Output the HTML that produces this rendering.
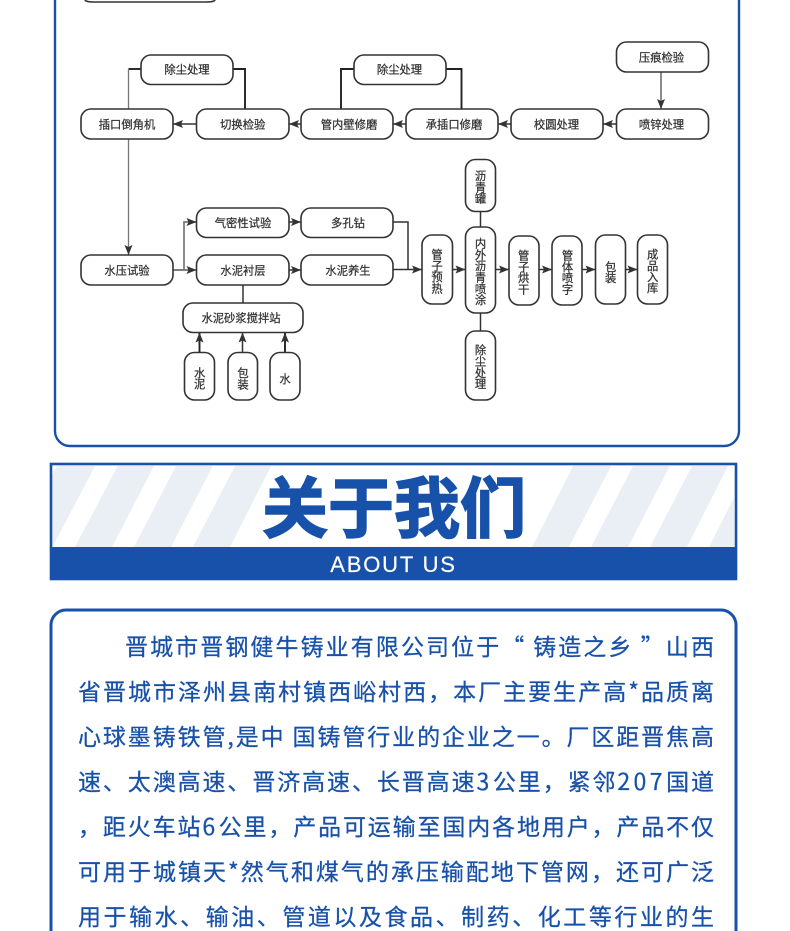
<!DOCTYPE html>
<html lang="zh-CN"><head><meta charset="utf-8"><style>
html,body{margin:0;padding:0;background:#fff;width:790px;height:931px;overflow:hidden}
#p{position:relative;width:790px;height:931px;overflow:hidden;background:#fff}
svg{position:absolute;left:0;top:0}
.n{fill:#fff;stroke:#333;stroke-width:1.6}
.t{font-family:"Noto Sans CJK SC","Liberation Sans",sans-serif;font-size:11.3px;font-weight:400;fill:#333;stroke:#333;stroke-width:.25;text-anchor:middle}
.l{fill:none;stroke:#333;stroke-width:1.5}
.g{fill:none;stroke:#777;stroke-width:1.3}
.b{fill:none;stroke:#222;stroke-width:1.9}
.a{marker-end:url(#m)}
.x{position:absolute;left:78px;width:637.700px;height:38px;overflow:hidden;line-height:45px;font-family:"Noto Sans CJK SC","Liberation Sans",sans-serif;font-size:23px;letter-spacing:1.7px;color:#1851a9;-webkit-text-stroke:.25px #1851a9;white-space:nowrap;text-align:justify;text-align-last:justify}
.d{letter-spacing:3.4px}
</style></head><body><div id="p">
<svg width="790" height="931" viewBox="0 0 790 931">
<defs>
<marker id="m" markerUnits="userSpaceOnUse" viewBox="0 0 10 10" refX="10" refY="5" markerWidth="10" markerHeight="10" orient="auto"><path d="M0 1L10 5L0 9L2 5Z" fill="#333"/></marker>
<clipPath id="c"><rect x="52.500" y="466" width="681.500" height="81"/></clipPath>
</defs>

<path d="M55 0V431a15 15 0 0 0 15 15H724a15 15 0 0 0 15-15V0" fill="#fff" stroke="#1851a9" stroke-width="2.4"/>

<path class="l a" d="M661 72V109" style="stroke:#666"/>
<path class="l a" d="M616 124H603"/><path class="l a" d="M511 124H498"/><path class="l a" d="M406 124H393"/><path class="l a" d="M301 124H289"/><path class="l a" d="M196.500 124H173"/>
<path class="b" d="M245 109V69H233"/>
<path class="b" d="M141 69H128.500"/><path class="g" d="M128.500 69V109"/>
<path class="g a" d="M128.500 139V255"/>
<path class="b" d="M341 109V69H354"/><path class="b" d="M446 69H461.500V109"/>
<path class="l a" d="M173 270H196.500" style="stroke:#555"/>
<path class="g a" d="M184 270V222H196.500" style="stroke-width:1.7"/>
<path class="l a" d="M289 222H301"/><path class="l a" d="M289 270H301"/>
<path class="l" d="M243 285V303" style="stroke-width:1.8;stroke:#555"/>
<path class="b a" d="M199.500 352V332.500"/><path class="l a" d="M242.500 352V332.500"/><path class="b a" d="M285 352V332.500"/>
<path class="l" d="M393 222H408V269.500"/><path class="l a" d="M393 269.500H422"/>
<path class="l a" d="M452.500 269.500H465.500"/><path class="l a" d="M495.500 269.500H509"/><path class="l a" d="M539 269.500H552"/><path class="l a" d="M582 269.500H595.500"/><path class="l a" d="M625.500 269.500H637.500"/>
<path class="l" d="M480.500 211V227"/><path class="l" d="M480.500 313V331"/>

<path class="n" d="M85 0q1 2 9 2H206q8 0 9-2"/>
<rect class="n" x="141" y="55" width="92" height="29.500" rx="10"/>
<rect class="n" x="81" y="109" width="92" height="30" rx="10"/>
<rect class="n" x="196.500" y="109" width="92.500" height="30" rx="10"/>
<rect class="n" x="301" y="109" width="92" height="30" rx="10"/>
<rect class="n" x="354" y="55" width="92" height="29.500" rx="10"/>
<rect class="n" x="406" y="109" width="92" height="30" rx="10"/>
<rect class="n" x="511" y="109" width="92" height="30" rx="10"/>
<rect class="n" x="616.500" y="109" width="92" height="30" rx="10"/>
<rect class="n" x="616.500" y="42" width="92" height="30" rx="10"/>
<rect class="n" x="196.500" y="208" width="92.500" height="29.500" rx="10"/>
<rect class="n" x="301" y="208" width="92" height="29.500" rx="10"/>
<rect class="n" x="81" y="255" width="92" height="30" rx="10"/>
<rect class="n" x="196.500" y="255" width="92.500" height="30" rx="10"/>
<rect class="n" x="301" y="255" width="92" height="30" rx="10"/>
<rect class="n" x="183" y="303" width="120" height="29.500" rx="10"/>
<rect class="n" x="184.500" y="352.500" width="30" height="47.500" rx="10"/>
<rect class="n" x="228" y="352.500" width="29.500" height="47.500" rx="10"/>
<rect class="n" x="270" y="352.500" width="30" height="47.500" rx="10"/>
<rect class="n" x="422" y="235" width="30.500" height="69" rx="10"/>
<rect class="n" x="465.500" y="159.500" width="30" height="52" rx="10"/>
<rect class="n" x="465.500" y="227" width="30" height="86" rx="10"/>
<rect class="n" x="465.500" y="331" width="30" height="69" rx="10"/>
<rect class="n" x="509" y="236" width="30" height="69" rx="10"/>
<rect class="n" x="552" y="236" width="30" height="69" rx="10"/>
<rect class="n" x="595.500" y="235" width="30" height="69" rx="10"/>
<rect class="n" x="637.500" y="235" width="30" height="69" rx="10"/>

<text class="t" x="187" y="73.500">除尘处理</text>
<text class="t" x="127" y="128.500">插口倒角机</text>
<text class="t" x="242.700" y="128.500">切换检验</text>
<text class="t" x="349" y="128.500">管内壁修磨</text>
<text class="t" x="399.500" y="73.500">除尘处理</text>
<text class="t" x="454" y="128.500">承插口修磨</text>
<text class="t" x="556.500" y="128.500">校圆处理</text>
<text class="t" x="661.500" y="128.500">喷锌处理</text>
<text class="t" x="661.500" y="61.500">压痕检验</text>
<text class="t" x="243" y="227">气密性试验</text>
<text class="t" x="348" y="227">多孔钻</text>
<text class="t" x="127" y="274.500">水压试验</text>
<text class="t" x="243" y="274.500">水泥衬层</text>
<text class="t" x="348" y="274.500">水泥养生</text>
<text class="t" x="241" y="322">水泥砂浆搅拌站</text>

<text class="t" x="199.700" y="377">水</text><text class="t" x="199.700" y="388">泥</text>
<text class="t" x="243" y="377">包</text><text class="t" x="243" y="388.500">装</text>
<text class="t" x="285" y="383">水</text>

<text class="t" x="437" y="258.500">管</text><text class="t" x="437" y="270">子</text><text class="t" x="437" y="281">预</text><text class="t" x="437" y="292.500">热</text>
<text class="t" x="480.500" y="180">沥</text><text class="t" x="480.500" y="191.500">青</text><text class="t" x="480.500" y="202.500">罐</text>
<text class="t" x="480.500" y="247.500">内</text><text class="t" x="480.500" y="259">外</text><text class="t" x="480.500" y="270">沥</text><text class="t" x="480.500" y="281.500">青</text><text class="t" x="480.500" y="293">喷</text><text class="t" x="480.500" y="304">涂</text>
<text class="t" x="480.500" y="354">除</text><text class="t" x="480.500" y="365.500">尘</text><text class="t" x="480.500" y="377">处</text><text class="t" x="480.500" y="388">理</text>
<text class="t" x="523.700" y="259.500">管</text><text class="t" x="523.700" y="271">子</text><text class="t" x="523.700" y="282">烘</text><text class="t" x="523.700" y="293.500">干</text>
<text class="t" x="567.500" y="259.500">管</text><text class="t" x="567.500" y="271">体</text><text class="t" x="567.500" y="282">喷</text><text class="t" x="567.500" y="293.500">字</text>
<text class="t" x="610.700" y="271">包</text><text class="t" x="610.700" y="282">装</text>
<text class="t" x="652.700" y="258.500">成</text><text class="t" x="652.700" y="270">品</text><text class="t" x="652.700" y="281">入</text><text class="t" x="652.700" y="292">库</text>

<rect x="51" y="464" width="685" height="115" fill="#fff" stroke="#1851a9" stroke-width="2.6"/>
<g clip-path="url(#c)" fill="#eaeff6">
<polygon points="57,466 95,466 52.500,547 15,547"/>
<polygon points="117.700,466 154,466 112,547 75,547"/>
<polygon points="176,466 212.700,466 171,547 134,547"/>
<polygon points="235,466 271,466 230,547 193,547"/>
<polygon points="573,466 611,466 569,547 532,547"/>
<polygon points="633,466 670,466 628,547 591,547"/>
<polygon points="692,466 728,466 687,547 650,547"/>
<polygon points="750,466 790,466 748,547 709,547"/>
</g>
<rect x="50" y="547" width="687" height="33" fill="#1851a9"/>
<text x="394" y="532" text-anchor="middle" style="font-family:'Noto Sans CJK SC',sans-serif;font-weight:700;font-size:66px;letter-spacing:0" fill="#1851a9" stroke="#1851a9" stroke-width="1.6">关于我们</text>
<text x="393.500" y="572" text-anchor="middle" style="font-family:'Liberation Sans',sans-serif;font-size:22px;letter-spacing:1.8px" fill="#fff" stroke="#fff" stroke-width=".2">ABOUT US</text>

<path d="M51 931V625a15 15 0 0 1 15-15H721a15 15 0 0 1 15 15V931" fill="#fff" stroke="#1851a9" stroke-width="3"/>
</svg>
<div class="x" style="top:623px;left:125px;width:590.700px">晋城市晋钢健牛铸业有限公司位于“ 铸造之乡 ”山西</div>
<div class="x" style="top:668px">省晋城市泽州县南村镇西峪村西，本厂主要生产高*品质离</div>
<div class="x" style="top:713px">心球墨铸铁管,是中 国铸管行业的企业之一。厂区距晋焦高</div>
<div class="x" style="top:758px">速、太澳高速、晋济高速、长晋高速<span class="d">3</span>公里，紧邻<span class="d">207</span>国道</div>
<div class="x" style="top:803px">，距火车站<span class="d">6</span>公里，产品可运输至国内各地用户，产品不仅</div>
<div class="x" style="top:848px">可用于城镇天*然气和煤气的承压输配地下管网，还可广泛</div>
<div class="x" style="top:893px">用于输水、输油、管道以及食品、制药、化工等行业的生</div>
</div></body></html>
